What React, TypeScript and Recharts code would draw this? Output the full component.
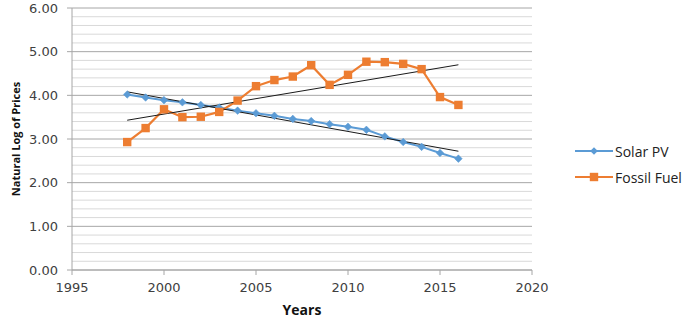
import React from "react";
import { ComposedChart, Line, XAxis, YAxis, CartesianGrid } from "recharts";

const years = [1998, 1999, 2000, 2001, 2002, 2003, 2004, 2005, 2006, 2007, 2008, 2009, 2010, 2011, 2012, 2013, 2014, 2015, 2016];
const solarPV = [4.02, 3.95, 3.89, 3.84, 3.78, 3.72, 3.65, 3.59, 3.53, 3.46, 3.41, 3.34, 3.28, 3.21, 3.06, 2.93, 2.82, 2.68, 2.55];
const fossilFuel = [2.93, 3.25, 3.68, 3.5, 3.51, 3.62, 3.88, 4.21, 4.35, 4.43, 4.69, 4.24, 4.47, 4.77, 4.76, 4.72, 4.6, 3.96, 3.78];

// trendline end points
const trendYears = [1998, 2016];
const solarTrend = [4.08, 2.72];
const fossilTrend = [3.43, 4.7];

const xTicks = [1995, 2000, 2005, 2010, 2015, 2020];
const yTicks = [0, 1, 2, 3, 4, 5, 6];
const minorTicks = [0.2, 0.4, 0.6, 0.8, 1.2, 1.4, 1.6, 1.8, 2.2, 2.4, 2.6, 2.8, 3.2, 3.4, 3.6, 3.8, 4.2, 4.4, 4.6, 4.8, 5.2, 5.4, 5.6, 5.8];

const BLUE = "#5b9bd5";
const ORANGE = "#ed7d31";

const data = years.map((year, i) => ({ year, solar: solarPV[i], fossil: fossilFuel[i] }));
const solarTrendData = trendYears.map((year, i) => ({ year, v: solarTrend[i] }));
const fossilTrendData = trendYears.map((year, i) => ({ year, v: fossilTrend[i] }));

const Diamond = (props: any) => {
  const { cx, cy } = props;
  if (cx == null || cy == null) return null;
  const r = 3.8;
  return <path d={`M${cx},${cy - r}L${cx + r},${cy}L${cx},${cy + r}L${cx - r},${cy}Z`} fill={BLUE} stroke={BLUE} strokeWidth={0.5} />;
};

const Square = (props: any) => {
  const { cx, cy } = props;
  if (cx == null || cy == null) return null;
  const s = 4.2;
  return <rect x={cx - s} y={cy - s} width={s * 2} height={s * 2} fill={ORANGE} />;
};

// minor gridlines placed through the y-axis scale
const minorGridCoords = ({ yAxis }: any) => {
  const scale = yAxis?.scale;
  if (!scale) return [];
  const f = typeof scale === "function" ? scale : scale.map?.bind(scale);
  if (!f) return [];
  return minorTicks.map((v) => f(v));
};

const legendItems = [
  { name: "Solar PV", color: BLUE, shape: "diamond" },
  { name: "Fossil Fuel", color: ORANGE, shape: "square" },
];

function ChartLegend() {
  return (
    <div style={{ position: "absolute", left: 575, top: 138, fontFamily: "'Open Sans', sans-serif", fontSize: 14, color: "#222" }}>
      {legendItems.map((it) => (
        <div key={it.name} style={{ display: "flex", alignItems: "center", height: 26 }}>
          <svg width={38} height={12} style={{ marginRight: 2 }}>
            <line x1={0} y1={6} x2={38} y2={6} stroke={it.color} strokeWidth={2} />
            {it.shape === "diamond" ? (
              <path d="M19,2.2L22.8,6L19,9.8L15.2,6Z" fill={it.color} />
            ) : (
              <rect x={14.8} y={1.8} width={8.4} height={8.4} fill={it.color} />
            )}
          </svg>
          <span>{it.name}</span>
        </div>
      ))}
    </div>
  );
}

export default function App() {
  const tick = { fill: "#404040", fontSize: 13, fontFamily: "'DejaVu Sans', sans-serif" };
  return (
    <div style={{ position: "absolute", left: 0, top: 0, width: 685, height: 322, background: "#fff" }}>
      <ComposedChart width={685} height={322} data={data} margin={{ top: 8, right: 153, left: 0, bottom: 0 }}>
        <CartesianGrid vertical={false} stroke="#d9d9d9" horizontalCoordinatesGenerator={minorGridCoords} />
        <CartesianGrid vertical={false} stroke="#a6a6a6" />
        <XAxis
          dataKey="year"
          type="number"
          domain={[1995, 2020]}
          ticks={xTicks}
          allowDataOverflow
          height={52}
          tick={tick}
          tickSize={5}
          tickMargin={8}
          stroke="#a6a6a6"
          label={{
            value: "Years",
            position: "insideBottom",
            offset: 7,
            style: { fontFamily: "'Open Sans', sans-serif", fontWeight: 700, fontSize: 14, fill: "#111" },
          }}
        />
        <YAxis
          type="number"
          domain={[0, 6]}
          ticks={yTicks}
          width={72}
          tick={tick}
          tickSize={5}
          tickMargin={9}
          stroke="#a6a6a6"
          tickFormatter={(v: number) => v.toFixed(2)}
          label={{
            value: "Natural Log of Prices",
            angle: -90,
            position: "insideLeft",
            offset: 16,
            style: { textAnchor: "middle", fontFamily: "'Open Sans', sans-serif", fontWeight: 700, fontSize: 11, fill: "#111" },
          }}
        />
        <Line
          dataKey="solar"
          name="Solar PV"
          stroke={BLUE}
          strokeWidth={2}
          dot={<Diamond />}
          activeDot={false}
          isAnimationActive={false}
        />
        <Line
          dataKey="fossil"
          name="Fossil Fuel"
          stroke={ORANGE}
          strokeWidth={2.2}
          dot={<Square />}
          activeDot={false}
          isAnimationActive={false}
        />
        <Line
          data={solarTrendData}
          dataKey="v"
          stroke="#1a1a1a"
          strokeWidth={1}
          dot={false}
          activeDot={false}
          legendType="none"
          isAnimationActive={false}
        />
        <Line
          data={fossilTrendData}
          dataKey="v"
          stroke="#1a1a1a"
          strokeWidth={1}
          dot={false}
          activeDot={false}
          legendType="none"
          isAnimationActive={false}
        />
      </ComposedChart>
      <ChartLegend />
    </div>
  );
}
